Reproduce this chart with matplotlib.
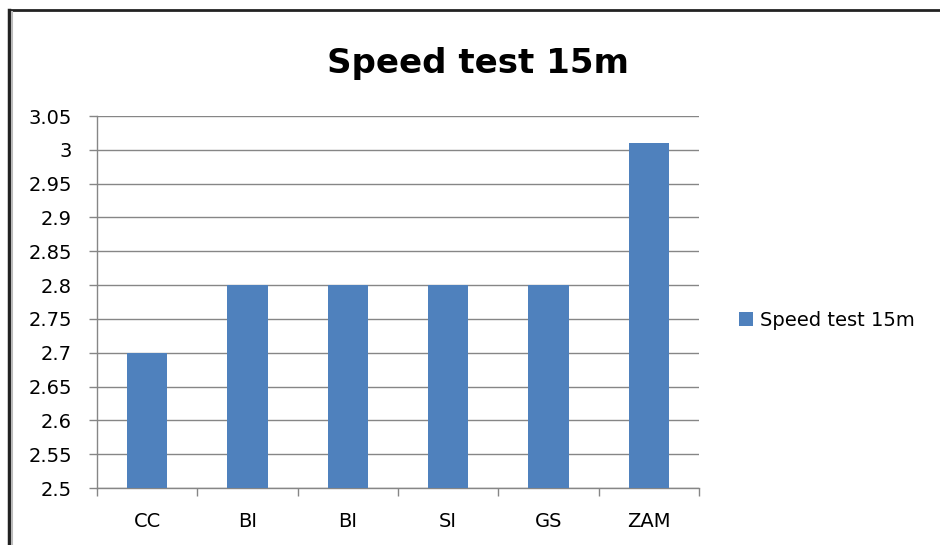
import matplotlib
matplotlib.use("Agg")
import matplotlib.pyplot as plt
from matplotlib.lines import Line2D
from matplotlib.patches import Patch

categories = ["CC", "BI", "BI", "SI", "GS", "ZAM"]
values = [2.70, 2.80, 2.80, 2.80, 2.80, 3.01]
yticks = [2.5, 2.55, 2.6, 2.65, 2.7, 2.75, 2.8, 2.85, 2.9, 2.95, 3.0, 3.05]
ytick_labels = ["2.5", "2.55", "2.6", "2.65", "2.7", "2.75", "2.8", "2.85", "2.9", "2.95", "3", "3.05"]
series_name = "Speed test 15m"
title = "Speed test 15m"

plt.rcParams['font.family'] = ['DejaVu Sans']
W, H = 940, 545
PX = 72 / 100  # points per pixel
fig = plt.figure(figsize=(W / 100, H / 100), dpi=100)
fig.patch.set_facecolor("white")

ax = fig.add_axes([97 / W, 1 - 488 / H, (699 - 97) / W, (488 - 116) / H])
bar_color = "#4F81BD"
x = list(range(len(categories)))
ax.bar(x, values, width=0.4, color=bar_color, zorder=3)
ax.set_xlim(-0.5, len(categories) - 0.5)
ax.set_ylim(2.5, 3.05)
ax.set_yticks(yticks)
ax.set_yticklabels(ytick_labels, fontsize=14)
ax.set_xticks(x)
ax.set_xticklabels(categories, fontsize=14)
ax.set_xticks([i - 0.5 for i in range(len(categories) + 1)], minor=True)
ax.tick_params(axis="x", which="major", length=0, pad=24 * PX)
ax.tick_params(axis="x", which="minor", length=8 * PX, width=1, color="#868686", direction="out")
ax.tick_params(axis="y", length=8 * PX, width=1, color="#868686", direction="out", pad=17 * PX)
ax.grid(axis="y", color="#868686", linewidth=1, zorder=0)
for s in ["top", "right"]:
    ax.spines[s].set_visible(False)
for s in ["left", "bottom"]:
    ax.spines[s].set_color("#868686")
    ax.spines[s].set_linewidth(1)
ax.set_axisbelow(True)

fig.text(478 / W, 1 - 73 / H, title, fontsize=24.5, fontweight="bold", ha="center", va="baseline")

leg = fig.legend(handles=[Patch(facecolor=bar_color, label=series_name)],
                 loc="center left", bbox_to_anchor=(733 / W, 1 - 320 / H),
                 frameon=False, fontsize=14, handlelength=0.72, handleheight=0.72,
                 handletextpad=0.36, borderpad=0.3, borderaxespad=0)

# Frame border (screenshot edge)
fig.add_artist(Line2D([9 / W, 9 / W], [0, 1 - 10 / H], transform=fig.transFigure, color="#222222", lw=2.5))
fig.add_artist(Line2D([9 / W, 1], [1 - 10 / H, 1 - 10 / H], transform=fig.transFigure, color="#222222", lw=2))
fig.add_artist(Line2D([12 / W, 12 / W], [0, 1 - 12 / H], transform=fig.transFigure, color="#bbbbbb", lw=1.5))

fig.savefig("out.png", dpi=100)
